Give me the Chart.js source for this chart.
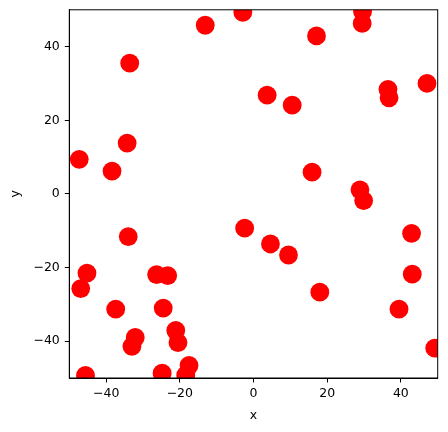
<!DOCTYPE html>
<html>
<head>
<meta charset="utf-8">
<script src="https://cdn.jsdelivr.net/npm/chart.js@4"></script>
<style>
  html, body { margin: 0; padding: 0; background: #fff; }
  #wrap { width: 448px; height: 432px; }
</style>
</head>
<body>
<div id="wrap"><canvas id="chart" width="448" height="432"></canvas></div>
<script>
// valeurs
const xValues = [
  -47.3, -45.2, -46.9, -45.6, -38.4, -37.4, -33.6, -34.3, -34.0, -32.1,
  -33.0, -26.3, -23.3, -24.5, -24.8, -21.1, -20.5, -17.5, -18.4, -13.1,
  -2.9, -2.4, 3.7, 4.6, 10.5, 9.5, 17.1, 15.9, 18.0, 29.6,
  29.5, 28.9, 29.9, 36.5, 36.8, 47.1, 42.9, 43.1, 39.5, 49.2
];
const yValues = [
  9.4, -21.5, -25.7, -49.3, 6.2, -31.3, 35.5, 13.8, -11.6, -39.0,
  -41.4, -21.9, -22.2, -31.0, -48.7, -37.1, -40.4, -46.6, -49.2, 45.8,
  49.3, -9.3, 26.8, -13.6, 24.1, -16.6, 42.9, 5.9, -26.7, 49.5,
  46.3, 1.1, -1.8, 28.4, 26.1, 30.0, -10.7, -21.8, -31.3, -41.9
];
const xTicks = [-40, -20, 0, 20, 40];
const yTicks = [-40, -20, 0, 20, 40];

const points = xValues.map((x, i) => ({ x: x, y: yValues[i] }));
const font = { family: "DejaVu Sans", size: 12.5 };
const minus = (v) => String(v).replace("-", "\u2212");

// cadre noir autour de la zone du graphe
const frame = {
  id: "frame",
  afterDraw(chart) {
    const a = chart.chartArea;
    const ctx = chart.ctx;
    ctx.save();
    ctx.strokeStyle = "#000";
    ctx.lineWidth = 1;
    ctx.strokeRect(a.left, a.top, a.right - a.left, a.bottom - a.top);
    ctx.restore();
  },
};

new Chart(document.getElementById("chart"), {
  type: "scatter",
  data: {
    datasets: [
      {
        data: points,
        backgroundColor: "#ff0000",
        borderWidth: 0,
        pointRadius: 9.4,
        pointHoverRadius: 9.4,
        clip: 0,
      },
    ],
  },
  options: {
    responsive: false,
    animation: false,
    layout: { padding: { top: 9.8, right: 10.3, left: 0, bottom: 0 } },
    plugins: { legend: { display: false }, tooltip: { enabled: false } },
    scales: {
      x: {
        type: "linear",
        min: -50,
        max: 50,
        afterBuildTicks: (s) => { s.ticks = xTicks.map((v) => ({ value: v })); },
        afterFit: (s) => { s.height = 54; s.paddingLeft = 0; s.paddingRight = 0; },
        grid: { drawOnChartArea: false, drawTicks: true, tickLength: 4.5, color: "#000" },
        border: { display: true, color: "#000", width: 1 },
        ticks: { color: "#000", font: font, padding: 4, maxRotation: 0, callback: minus },
        title: { display: true, text: "x", color: "#000", font: font, padding: { top: 0, bottom: 9 } },
      },
      y: {
        type: "linear",
        min: -50,
        max: 50,
        afterBuildTicks: (s) => { s.ticks = yTicks.map((v) => ({ value: v })); },
        afterFit: (s) => { s.width = 69.3; s.paddingTop = 0; s.paddingBottom = 0; },
        grid: { drawOnChartArea: false, drawTicks: true, tickLength: 4.5, color: "#000" },
        border: { display: true, color: "#000", width: 1 },
        ticks: { color: "#000", font: font, padding: 5, callback: minus },
        title: { display: true, text: "y", color: "#000", font: font, padding: { top: 8, bottom: 0 } },
      },
    },
  },
  plugins: [frame],
});
</script>
</body>
</html>
